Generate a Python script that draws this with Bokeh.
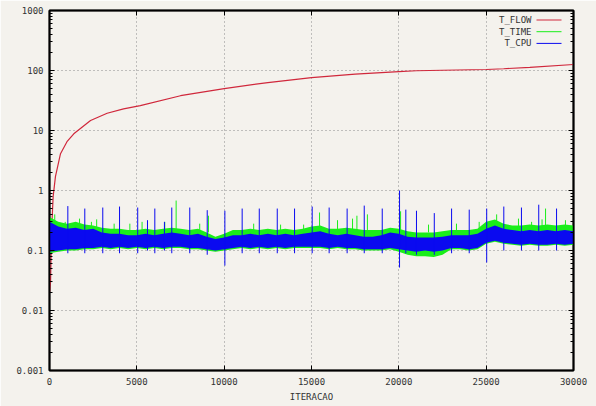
from bokeh.plotting import figure
from bokeh.models import (FixedTicker, LogAxis, LinearAxis, Label, Arrow, Range1d,
                          CustomLabelingPolicy)
from bokeh.embed import file_html
from bokeh.resources import INLINE

# ---- data ----
flow_x = [0, 60, 115, 210, 340, 630, 1000, 1390, 2350, 3300, 4240, 5200, 7500, 10000,
          12500, 15000, 17500, 20000, 21000, 22500, 25000, 26000, 27500, 30000]
flow_y = [0.02, 0.03, 0.2, 0.8, 1.7, 4.1, 6.5, 8.8, 14.7, 19.4, 23, 26, 38, 50,
          63, 76, 87, 96, 99, 101, 104, 107, 113, 126]

band_x = list(range(0, 30001, 500))
cpu_hi = [0.30, 0.25, 0.23, 0.24, 0.22, 0.23, 0.20, 0.19, 0.19, 0.18, 0.18, 0.19, 0.18, 0.19, 0.20,
          0.19, 0.18, 0.19, 0.17, 0.155, 0.165, 0.18, 0.18, 0.19, 0.18, 0.19, 0.18, 0.19, 0.18, 0.19,
          0.20, 0.21, 0.19, 0.18, 0.19, 0.18, 0.17, 0.17, 0.18, 0.20, 0.19, 0.17, 0.165, 0.165, 0.165,
          0.17, 0.18, 0.18, 0.18, 0.19, 0.23, 0.26, 0.23, 0.22, 0.21, 0.22, 0.21, 0.22, 0.21, 0.22, 0.21]
cpu_lo = [0.095, 0.10, 0.105, 0.105, 0.11, 0.11, 0.115, 0.11, 0.115, 0.11, 0.115, 0.11, 0.115, 0.11, 0.115,
          0.115, 0.11, 0.11, 0.105, 0.10, 0.105, 0.11, 0.115, 0.11, 0.115, 0.11, 0.115, 0.11, 0.115, 0.115,
          0.115, 0.115, 0.11, 0.115, 0.11, 0.11, 0.105, 0.105, 0.105, 0.11, 0.105, 0.10, 0.095, 0.10, 0.095,
          0.10, 0.11, 0.11, 0.105, 0.11, 0.135, 0.145, 0.135, 0.13, 0.125, 0.13, 0.125, 0.125, 0.13, 0.125, 0.13]
time_hi = [0.36, 0.30, 0.28, 0.30, 0.27, 0.26, 0.24, 0.23, 0.23, 0.22, 0.22, 0.23, 0.22, 0.23, 0.24,
           0.23, 0.22, 0.23, 0.20, 0.17, 0.19, 0.22, 0.22, 0.23, 0.22, 0.23, 0.22, 0.23, 0.22, 0.23,
           0.25, 0.26, 0.23, 0.23, 0.24, 0.23, 0.22, 0.22, 0.22, 0.24, 0.23, 0.21, 0.20, 0.20, 0.20,
           0.21, 0.22, 0.22, 0.22, 0.23, 0.30, 0.33, 0.28, 0.26, 0.26, 0.27, 0.26, 0.27, 0.26, 0.27, 0.26]
time_lo = [0.09, 0.095, 0.10, 0.10, 0.105, 0.105, 0.11, 0.105, 0.11, 0.105, 0.11, 0.105, 0.11, 0.105, 0.11,
           0.11, 0.105, 0.105, 0.10, 0.095, 0.10, 0.105, 0.11, 0.105, 0.11, 0.105, 0.11, 0.105, 0.11, 0.11,
           0.11, 0.11, 0.105, 0.11, 0.105, 0.105, 0.10, 0.10, 0.10, 0.105, 0.095, 0.085, 0.08, 0.08, 0.078,
           0.085, 0.105, 0.105, 0.10, 0.105, 0.13, 0.14, 0.13, 0.125, 0.12, 0.125, 0.12, 0.12, 0.125, 0.12, 0.125]

cpu_spike_x = [1050, 2020, 3050, 4010, 5050, 5610, 6030, 6580, 7000, 8030, 9030, 10040, 11030, 12010,
               13040, 14030, 15040, 16010, 17040, 18020, 19050, 20040, 20400, 21010, 22030, 23020,
               24030, 25030, 26010, 27020, 28010, 29030]
cpu_spike_top = [0.55, 0.50, 0.52, 0.54, 0.52, 0.32, 0.50, 0.30, 0.52, 0.52, 0.47, 0.46, 0.50, 0.50,
                 0.50, 0.50, 0.54, 0.52, 0.50, 0.56, 0.50, 1.0, 0.48, 0.46, 0.42, 0.50,
                 0.48, 0.50, 0.54, 0.52, 0.58, 0.50]
cpu_spike_bot = [0.09, 0.09, 0.09, 0.09, 0.09, 0.1, 0.09, 0.1, 0.09, 0.09, 0.085, 0.056, 0.09, 0.09,
                 0.09, 0.09, 0.09, 0.09, 0.09, 0.09, 0.09, 0.052, 0.09, 0.085, 0.085, 0.09,
                 0.09, 0.063, 0.1, 0.1, 0.1, 0.1]

time_spike_x = [300, 900, 1720, 2400, 2700, 3700, 4600, 5300, 6600, 7250, 8600, 9100, 11690, 13230,
                14550, 15460, 16490, 17350, 17600, 18200, 20100, 21700, 23300, 24600, 25600, 26850,
                27600, 28200, 28400, 29540]
time_spike_top = [0.40, 0.30, 0.34, 0.30, 0.33, 0.28, 0.28, 0.30, 0.30, 0.68, 0.28, 0.38, 0.28, 0.27,
                  0.27, 0.43, 0.32, 0.34, 0.38, 0.40, 0.45, 0.27, 0.28, 0.30, 0.40, 0.34,
                  0.30, 0.33, 0.50, 0.32]

x_ticks = [0, 5000, 10000, 15000, 20000, 25000, 30000]
y_ticks = [0.001, 0.01, 0.1, 1, 10, 100, 1000]
y_tick_labels = ["0.001", "0.01", "0.1", "1", "10", "100", "1000"]
series_names = ["T_FLOW", "T_TIME", "T_CPU"]

# ---- style ----
BG = "#f4f2ed"
RED = "#d0283c"
GREEN = "#1aee1a"
BLUE = "#0a0af0"
FONT = "DejaVu Sans Mono"
TXT = "#333333"

p = figure(width=596, height=406, x_range=Range1d(0, 30000), y_range=Range1d(0.001, 1000),
           y_axis_type="log", output_backend="svg", toolbar_location=None,
           min_border_left=49, min_border_right=23, min_border_top=10, min_border_bottom=36)
p.background_fill_color = BG
p.border_fill_color = BG
p.outline_line_color = "black"
p.outline_line_width = 2

minor = [m * 10.0 ** e for e in range(-3, 3) for m in range(2, 10)]
yticker = FixedTicker(ticks=y_ticks, minor_ticks=minor)
xticker = FixedTicker(ticks=x_ticks)

def style_axis(ax):
    ax.axis_line_color = "black"
    ax.axis_line_width = 1.5
    ax.major_tick_in = 5
    ax.major_tick_out = 0
    ax.minor_tick_in = 3
    ax.minor_tick_out = 0
    ax.major_tick_line_color = "black"
    ax.minor_tick_line_color = "black"
    ax.major_label_text_font = FONT
    ax.major_label_text_font_size = "9px"
    ax.major_label_text_color = TXT
    ax.major_label_standoff = 6

yax = p.yaxis[0]
yax.ticker = yticker
yax.major_label_overrides = {t: s for t, s in zip(y_ticks, y_tick_labels)}
style_axis(yax)

xax = p.xaxis[0]
xax.ticker = xticker
style_axis(xax)
xax.major_label_standoff = 7
xax.axis_label = "ITERACAO"
xax.axis_label_text_font = FONT
xax.axis_label_text_font_size = "9px"
xax.axis_label_text_font_style = "normal"
xax.axis_label_text_color = TXT
xax.axis_label_standoff = 4

hide_all = CustomLabelingPolicy(code="""
    for (const i of indices) indices.unset(i)
    return indices
""")
rax = LogAxis(ticker=yticker, major_label_policy=hide_all)
tax = LinearAxis(ticker=xticker, major_label_policy=hide_all)
for ax in (rax, tax):
    style_axis(ax)
    ax.major_label_text_font_size = "1px"
    ax.major_label_standoff = 0
tax.minor_tick_in = 0
p.add_layout(rax, "right")
p.add_layout(tax, "above")

p.xgrid.ticker = xticker
p.ygrid.ticker = yticker
for g in (p.xgrid[0], p.ygrid[0]):
    g.grid_line_color = "#8a8a8a"
    g.grid_line_dash = "1 3"
    g.grid_line_width = 1

# ---- series ----
p.line(flow_x, flow_y, line_color=RED, line_width=1.2)
p.varea(x=band_x, y1=time_lo, y2=time_hi, fill_color=GREEN)
p.segment(x0=time_spike_x, y0=[0.2] * len(time_spike_x), x1=time_spike_x, y1=time_spike_top,
          line_color=GREEN, line_width=1)
p.varea(x=band_x, y1=cpu_lo, y2=cpu_hi, fill_color=BLUE)
p.segment(x0=cpu_spike_x, y0=cpu_spike_bot, x1=cpu_spike_x, y1=cpu_spike_top,
          line_color=BLUE, line_width=1)

# ---- gnuplot-style key (text left of sample line) ----
colors = [RED, GREEN, BLUE]
for i, (name, c) in enumerate(zip(series_names, colors)):
    yy = 360 - 9.5 - i * 11.7
    p.add_layout(Label(x=482, y=yy, x_units="screen", y_units="screen", text=name,
                       text_align="right", text_baseline="middle", text_font=FONT,
                       text_font_size="9px", text_color=TXT))
    p.add_layout(Arrow(start=None, end=None, x_start=487, y_start=yy, x_end=512, y_end=yy,
                       start_units="screen", end_units="screen", line_color=c, line_width=1))

open("out.html", "w").write(file_html(p, INLINE))
